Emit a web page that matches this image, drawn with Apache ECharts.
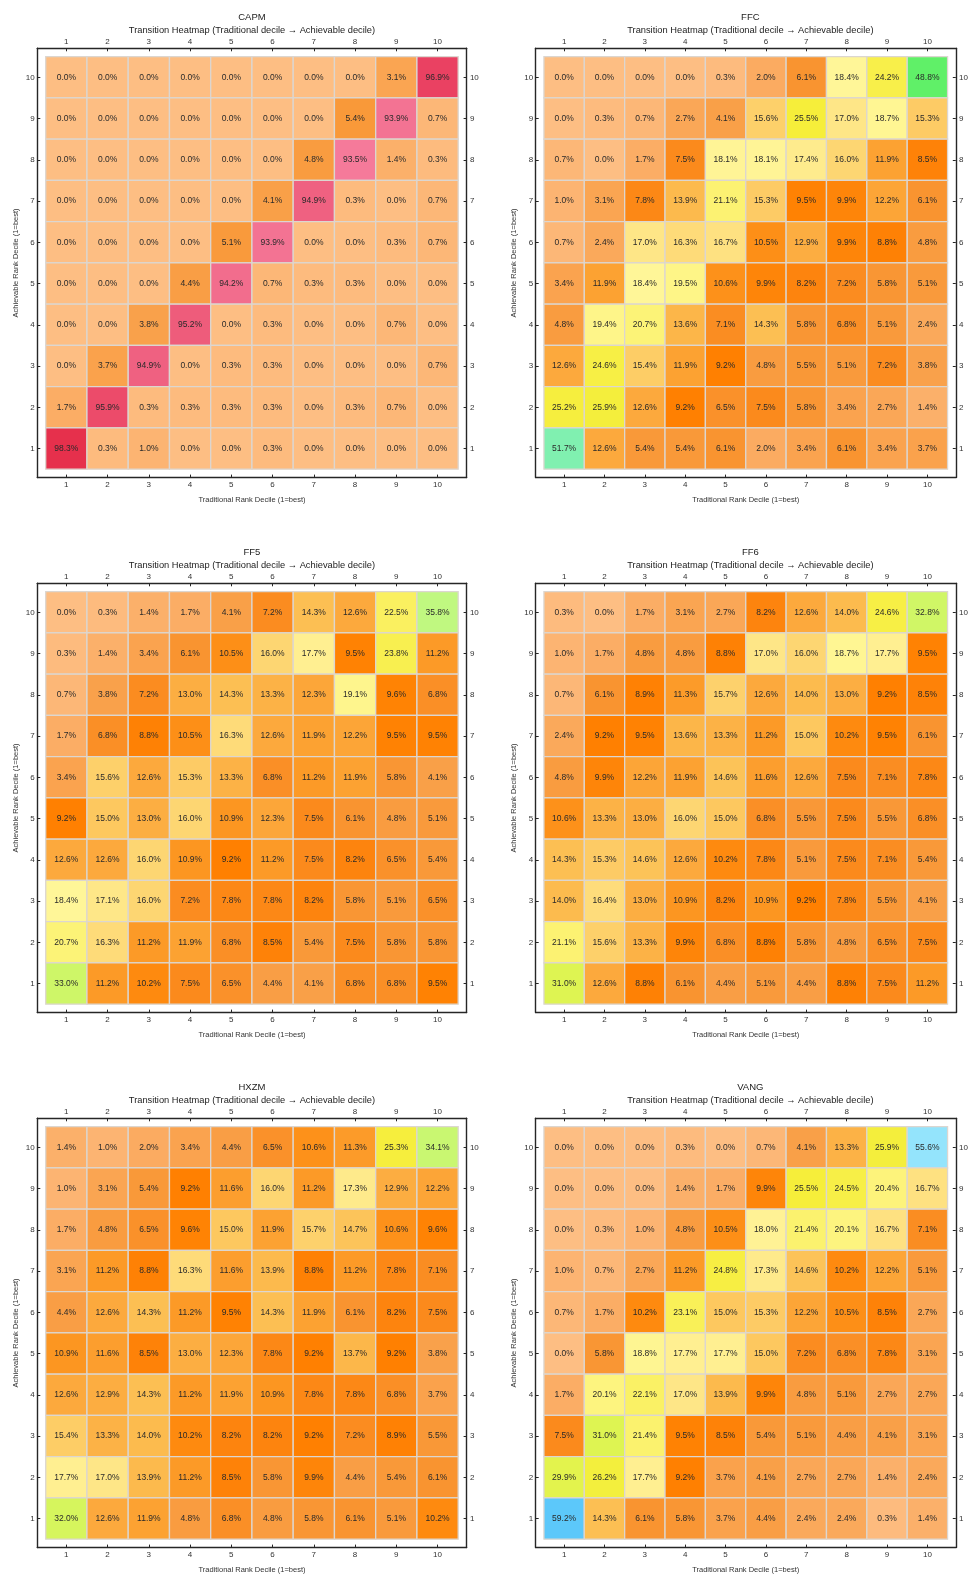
<!DOCTYPE html>
<html>
<head>
<meta charset="utf-8">
<script src="https://cdn.jsdelivr.net/npm/echarts@6/dist/echarts.min.js"></script>
<style>
  html, body { margin: 0; padding: 0; background: #ffffff; }
  #chart { width: 971px; height: 1575px; }
</style>
</head>
<body>
<div id="chart"></div>
<script>
// Decile tick values shared by every axis
const deciles = [1, 2, 3, 4, 5, 6, 7, 8, 9, 10];

// Transition shares (%) per model.
// Each row is one achievable decile, listed from 10 (top) down to 1 (bottom);
// columns are traditional deciles 1..10.
const capm = [
  [0.0, 0.0, 0.0, 0.0, 0.0, 0.0, 0.0, 0.0, 3.1, 96.9],
  [0.0, 0.0, 0.0, 0.0, 0.0, 0.0, 0.0, 5.4, 93.9, 0.7],
  [0.0, 0.0, 0.0, 0.0, 0.0, 0.0, 4.8, 93.5, 1.4, 0.3],
  [0.0, 0.0, 0.0, 0.0, 0.0, 4.1, 94.9, 0.3, 0.0, 0.7],
  [0.0, 0.0, 0.0, 0.0, 5.1, 93.9, 0.0, 0.0, 0.3, 0.7],
  [0.0, 0.0, 0.0, 4.4, 94.2, 0.7, 0.3, 0.3, 0.0, 0.0],
  [0.0, 0.0, 3.8, 95.2, 0.0, 0.3, 0.0, 0.0, 0.7, 0.0],
  [0.0, 3.7, 94.9, 0.0, 0.3, 0.3, 0.0, 0.0, 0.0, 0.7],
  [1.7, 95.9, 0.3, 0.3, 0.3, 0.3, 0.0, 0.3, 0.7, 0.0],
  [98.3, 0.3, 1.0, 0.0, 0.0, 0.3, 0.0, 0.0, 0.0, 0.0]
];
const ffc = [
  [0.0, 0.0, 0.0, 0.0, 0.3, 2.0, 6.1, 18.4, 24.2, 48.8],
  [0.0, 0.3, 0.7, 2.7, 4.1, 15.6, 25.5, 17.0, 18.7, 15.3],
  [0.7, 0.0, 1.7, 7.5, 18.1, 18.1, 17.4, 16.0, 11.9, 8.5],
  [1.0, 3.1, 7.8, 13.9, 21.1, 15.3, 9.5, 9.9, 12.2, 6.1],
  [0.7, 2.4, 17.0, 16.3, 16.7, 10.5, 12.9, 9.9, 8.8, 4.8],
  [3.4, 11.9, 18.4, 19.5, 10.6, 9.9, 8.2, 7.2, 5.8, 5.1],
  [4.8, 19.4, 20.7, 13.6, 7.1, 14.3, 5.8, 6.8, 5.1, 2.4],
  [12.6, 24.6, 15.4, 11.9, 9.2, 4.8, 5.5, 5.1, 7.2, 3.8],
  [25.2, 25.9, 12.6, 9.2, 6.5, 7.5, 5.8, 3.4, 2.7, 1.4],
  [51.7, 12.6, 5.4, 5.4, 6.1, 2.0, 3.4, 6.1, 3.4, 3.7]
];
const ff5 = [
  [0.0, 0.3, 1.4, 1.7, 4.1, 7.2, 14.3, 12.6, 22.5, 35.8],
  [0.3, 1.4, 3.4, 6.1, 10.5, 16.0, 17.7, 9.5, 23.8, 11.2],
  [0.7, 3.8, 7.2, 13.0, 14.3, 13.3, 12.3, 19.1, 9.6, 6.8],
  [1.7, 6.8, 8.8, 10.5, 16.3, 12.6, 11.9, 12.2, 9.5, 9.5],
  [3.4, 15.6, 12.6, 15.3, 13.3, 6.8, 11.2, 11.9, 5.8, 4.1],
  [9.2, 15.0, 13.0, 16.0, 10.9, 12.3, 7.5, 6.1, 4.8, 5.1],
  [12.6, 12.6, 16.0, 10.9, 9.2, 11.2, 7.5, 8.2, 6.5, 5.4],
  [18.4, 17.1, 16.0, 7.2, 7.8, 7.8, 8.2, 5.8, 5.1, 6.5],
  [20.7, 16.3, 11.2, 11.9, 6.8, 8.5, 5.4, 7.5, 5.8, 5.8],
  [33.0, 11.2, 10.2, 7.5, 6.5, 4.4, 4.1, 6.8, 6.8, 9.5]
];
const ff6 = [
  [0.3, 0.0, 1.7, 3.1, 2.7, 8.2, 12.6, 14.0, 24.6, 32.8],
  [1.0, 1.7, 4.8, 4.8, 8.8, 17.0, 16.0, 18.7, 17.7, 9.5],
  [0.7, 6.1, 8.9, 11.3, 15.7, 12.6, 14.0, 13.0, 9.2, 8.5],
  [2.4, 9.2, 9.5, 13.6, 13.3, 11.2, 15.0, 10.2, 9.5, 6.1],
  [4.8, 9.9, 12.2, 11.9, 14.6, 11.6, 12.6, 7.5, 7.1, 7.8],
  [10.6, 13.3, 13.0, 16.0, 15.0, 6.8, 5.5, 7.5, 5.5, 6.8],
  [14.3, 15.3, 14.6, 12.6, 10.2, 7.8, 5.1, 7.5, 7.1, 5.4],
  [14.0, 16.4, 13.0, 10.9, 8.2, 10.9, 9.2, 7.8, 5.5, 4.1],
  [21.1, 15.6, 13.3, 9.9, 6.8, 8.8, 5.8, 4.8, 6.5, 7.5],
  [31.0, 12.6, 8.8, 6.1, 4.4, 5.1, 4.4, 8.8, 7.5, 11.2]
];
const hxzm = [
  [1.4, 1.0, 2.0, 3.4, 4.4, 6.5, 10.6, 11.3, 25.3, 34.1],
  [1.0, 3.1, 5.4, 9.2, 11.6, 16.0, 11.2, 17.3, 12.9, 12.2],
  [1.7, 4.8, 6.5, 9.6, 15.0, 11.9, 15.7, 14.7, 10.6, 9.6],
  [3.1, 11.2, 8.8, 16.3, 11.6, 13.9, 8.8, 11.2, 7.8, 7.1],
  [4.4, 12.6, 14.3, 11.2, 9.5, 14.3, 11.9, 6.1, 8.2, 7.5],
  [10.9, 11.6, 8.5, 13.0, 12.3, 7.8, 9.2, 13.7, 9.2, 3.8],
  [12.6, 12.9, 14.3, 11.2, 11.9, 10.9, 7.8, 7.8, 6.8, 3.7],
  [15.4, 13.3, 14.0, 10.2, 8.2, 8.2, 9.2, 7.2, 8.9, 5.5],
  [17.7, 17.0, 13.9, 11.2, 8.5, 5.8, 9.9, 4.4, 5.4, 6.1],
  [32.0, 12.6, 11.9, 4.8, 6.8, 4.8, 5.8, 6.1, 5.1, 10.2]
];
const vang = [
  [0.0, 0.0, 0.0, 0.3, 0.0, 0.7, 4.1, 13.3, 25.9, 55.6],
  [0.0, 0.0, 0.0, 1.4, 1.7, 9.9, 25.5, 24.5, 20.4, 16.7],
  [0.0, 0.3, 1.0, 4.8, 10.5, 18.0, 21.4, 20.1, 16.7, 7.1],
  [1.0, 0.7, 2.7, 11.2, 24.8, 17.3, 14.6, 10.2, 12.2, 5.1],
  [0.7, 1.7, 10.2, 23.1, 15.0, 15.3, 12.2, 10.5, 8.5, 2.7],
  [0.0, 5.8, 18.8, 17.7, 17.7, 15.0, 7.2, 6.8, 7.8, 3.1],
  [1.7, 20.1, 22.1, 17.0, 13.9, 9.9, 4.8, 5.1, 2.7, 2.7],
  [7.5, 31.0, 21.4, 9.5, 8.5, 5.4, 5.1, 4.4, 4.1, 3.1],
  [29.9, 26.2, 17.7, 9.2, 3.7, 4.1, 2.7, 2.7, 1.4, 2.4],
  [59.2, 14.3, 6.1, 5.8, 3.7, 4.4, 2.4, 2.4, 0.3, 1.4]
];

const modelNames = ['CAPM', 'FFC', 'FF5', 'FF6', 'HXZM', 'VANG'];
const modelTables = [capm, ffc, ff5, ff6, hxzm, vang];

const subtitleText = 'Transition Heatmap (Traditional decile \u2192 Achievable decile)';
const xAxisName = 'Traditional Rank Decile (1=best)';
const yAxisName = 'Achievable Rank Decile (1=best)';

// ---- styling ----
const FONT = '"Liberation Sans", Arial, Helvetica, sans-serif';
const FRAME = '#262626';
const TEXT = '#333333';

// Colour ramp: peach -> deep orange -> pale yellow -> yellow -> green -> cyan ... pink -> red
const colorStops = [
  [0.0, [253, 190, 131]],
  [0.7, [252, 183, 119]],
  [1.7, [251, 173, 101]],
  [3.0, [250, 165, 83]],
  [4.5, [249, 158, 68]],
  [6.0, [249, 149, 49]],
  [7.5, [251, 138, 28]],
  [8.5, [254, 130, 8]],
  [9.3, [255, 128, 0]],
  [10.0, [254, 134, 10]],
  [11.0, [252, 152, 36]],
  [12.5, [252, 168, 60]],
  [14.0, [252, 187, 78]],
  [15.5, [253, 206, 104]],
  [17.0, [254, 230, 135]],
  [18.3, [255, 246, 153]],
  [20.0, [253, 244, 128]],
  [22.5, [250, 240, 96]],
  [25.5, [246, 238, 58]],
  [31.0, [222, 244, 82]],
  [33.0, [206, 246, 104]],
  [35.8, [192, 248, 128]],
  [48.8, [96, 240, 104]],
  [51.7, [128, 240, 176]],
  [55.6, [148, 228, 252]],
  [59.2, [92, 200, 250]],
  [75.0, [180, 150, 215]],
  [93.5, [245, 122, 154]],
  [94.5, [241, 104, 136]],
  [95.2, [238, 92, 123]],
  [96.0, [236, 73, 104]],
  [97.0, [234, 64, 97]],
  [98.3, [230, 48, 76]],
  [100.0, [226, 36, 62]]
];

function rampColor(v) {
  if (v <= colorStops[0][0]) return 'rgb(' + colorStops[0][1].join(',') + ')';
  for (let i = 1; i < colorStops.length; i++) {
    const a = colorStops[i - 1], b = colorStops[i];
    if (v <= b[0]) {
      const t = (v - a[0]) / (b[0] - a[0]);
      const c = a[1].map((ch, k) => Math.round(ch + (b[1][k] - ch) * t));
      return 'rgb(' + c.join(',') + ')';
    }
  }
  return 'rgb(' + colorStops[colorStops.length - 1][1].join(',') + ')';
}

// Frame (grid) boxes; the value axes leave a margin of ~0.2 units around the cells
const frameLeft = [37.3, 535.7];
const frameTop = [48.3, 583.3, 1118.3];
const frameSize = 429.3;
const AX_MIN = 0.296;
const AX_MAX = 10.704;

const grids = [], xAxes = [], yAxes = [], series = [], titles = [];

function baseAxis(gridIndex, position, margin) {
  return {
    type: 'value',
    gridIndex: gridIndex,
    position: position,
    min: AX_MIN,
    max: AX_MAX,
    axisLine: { show: true, onZero: false, lineStyle: { color: FRAME, width: 1.4 } },
    axisTick: { show: true, inside: true, length: 3, customValues: deciles, lineStyle: { color: FRAME, width: 1 } },
    axisLabel: { show: true, customValues: deciles, margin: margin, fontSize: 8, color: TEXT, fontFamily: FONT },
    splitLine: { show: false }
  };
}

modelNames.forEach((name, i) => {
  const col = i % 2, row = Math.floor(i / 2);
  const left = frameLeft[col], top = frameTop[row];
  grids.push({ left: left, top: top, width: frameSize, height: frameSize, containLabel: false });

  const xb = baseAxis(i, 'bottom', 3);
  xb.name = xAxisName;
  xb.nameLocation = 'middle';
  xb.nameGap = 18;
  xb.nameTextStyle = { fontSize: 7.5, color: TEXT, fontFamily: FONT };
  xAxes.push(xb);
  xAxes.push(baseAxis(i, 'top', 3));

  const yl = baseAxis(i, 'left', 2.6);
  yl.name = yAxisName;
  yl.nameLocation = 'middle';
  yl.nameGap = 17.5;
  yl.nameTextStyle = { fontSize: 7.5, color: TEXT, fontFamily: FONT };
  yAxes.push(yl);
  yAxes.push(baseAxis(i, 'right', 3.3));

  const cx = left + frameSize / 2;
  titles.push({
    text: name, left: cx, top: top - 37, textAlign: 'center', padding: 0,
    textStyle: { fontSize: 9.5, fontWeight: 'normal', color: '#222', fontFamily: FONT, lineHeight: 12 }
  });
  titles.push({
    text: subtitleText, left: cx, top: top - 23.6, textAlign: 'center', padding: 0,
    textStyle: { fontSize: 9.3, fontWeight: 'normal', color: '#222', fontFamily: FONT, lineHeight: 12 }
  });

  const cells = [];
  modelTables[i].forEach((rowVals, r) => {
    rowVals.forEach((v, c) => cells.push([c + 1, 10 - r, v]));
  });

  series.push({
    type: 'custom',
    xAxisIndex: i * 2,
    yAxisIndex: i * 2,
    data: cells,
    clip: false,
    animation: false,
    renderItem: function (params, api) {
      const x = api.value(0), y = api.value(1), v = api.value(2);
      const p0 = api.coord([x - 0.5, y + 0.5]);
      const p1 = api.coord([x + 0.5, y - 0.5]);
      return {
        type: 'rect',
        shape: { x: p0[0], y: p0[1], width: p1[0] - p0[0], height: p1[1] - p0[1] },
        style: { fill: rampColor(v), stroke: '#dcd6d0', lineWidth: 1.3 },
        textContent: {
          style: { text: v.toFixed(1) + '%', fill: '#2a2a2a', fontSize: 8.5, fontFamily: FONT }
        },
        textConfig: { position: 'inside' }
      };
    }
  });
});

const chart = echarts.init(document.getElementById('chart'), null, { renderer: 'canvas', width: 971, height: 1575 });
chart.setOption({
  backgroundColor: '#ffffff',
  animation: false,
  title: titles,
  grid: grids,
  xAxis: xAxes,
  yAxis: yAxes,
  series: series
});
</script>
</body>
</html>
